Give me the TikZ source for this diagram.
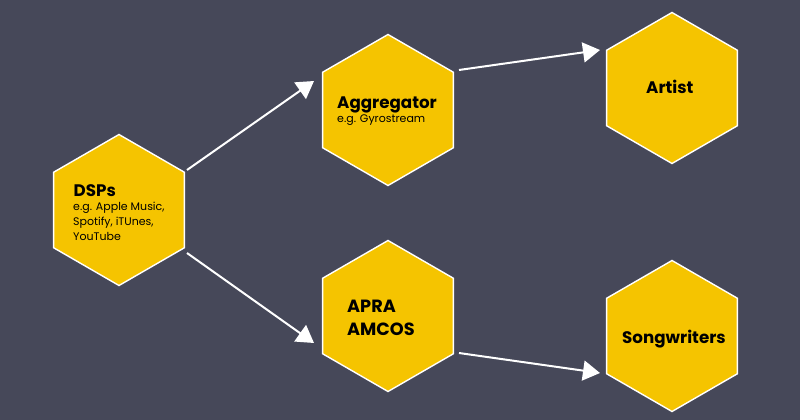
\documentclass[tikz,border=0pt]{standalone}
\usepackage{fontspec}
\setmainfont{Poppins}
\usetikzlibrary{shapes.geometric,arrows.meta,calc}
\definecolor{bgc}{HTML}{464859}
\definecolor{hexc}{HTML}{F5C400}
\tikzset{
  hexa/.style={regular polygon,regular polygon sides=6,shape border rotate=30,minimum size=151pt,inner sep=0pt,outer sep=0pt,draw=white,line width=1.4pt,fill=hexc},
  ttl/.style={anchor=base west,inner sep=0pt,text=black,font=\fontsize{16.7}{20}\selectfont\bfseries},
  sub/.style={anchor=base west,inner sep=0pt,text=black,font=\fontsize{11}{15}\selectfont,align=left},
  arr/.style={draw=white,line width=2pt,-{Triangle[length=17pt,width=20pt,fill=white]}}
}
\begin{document}
\begin{tikzpicture}[x=1pt,y=-1pt]
\fill[bgc] (0,0) rectangle (800,420);
\useasboundingbox (0,0) rectangle (800,420);
\node[hexa] (dsp) at (119,210) {};
\node[hexa] (agg) at (388,110) {};
\node[hexa] (art) at (672,88) {};
\node[hexa] (apra) at (388,316) {};
\node[hexa] (song) at (672,336) {};
\node[ttl] (t1) at (73.5,196) {DSPs};
\node[sub,anchor=north west] (s1) at (73,202) {e.g. Apple Music,\\Spotify, iTUnes,\\YouTube};
\node[ttl] (t2) at (337,108) {Aggregator};
\node[sub] (s2) at (337,122) {e.g. Gyrostream};
\node[ttl] (t3) at (646,93) {Artist};
\node[ttl,align=left,anchor=north west,font=\fontsize{17.7}{23}\selectfont\bfseries] (t4) at (347,299.5) {APRA\\AMCOS};
\node[ttl] (t5) at (622,343) {Songwriters};
\draw[arr] ($(dsp)+(68,-40)$) -- ($(agg)+(-74,-29)$);
\draw[arr] ($(dsp)+(68,43)$) -- ($(apra)+(-74,27)$);
\draw[arr] ($(agg)+(71,-40)$) -- ($(art)+(-72,-38)$);
\draw[arr] ($(apra)+(71,37)$) -- ($(song)+(-72,37)$);
\end{tikzpicture}
\end{document}
